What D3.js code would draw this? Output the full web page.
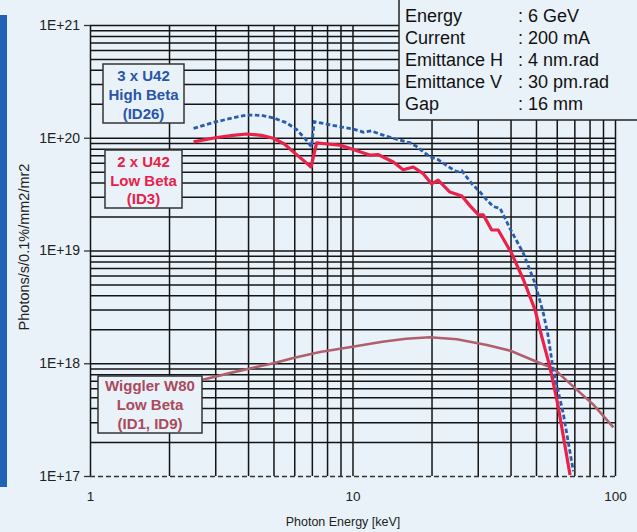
<!DOCTYPE html>
<html><head><meta charset="utf-8">
<script src="https://cdn.jsdelivr.net/npm/d3@7"></script>
<style>
html,body{margin:0;padding:0;background:#e9f2f8;}
svg{display:block;font-family:"Liberation Sans",Arial,sans-serif;}
</style></head>
<body>
<svg id="chart" width="637" height="532"></svg>
<script>
// ---- data ----
const xTickLabels = ["1", "10", "100"];
const yTickLabels = ["1E+17", "1E+18", "1E+19", "1E+20", "1E+21"];
const xLabel = "Photon Energy [keV]";
const yLabel = "Photons/s/0.1%/mm2/mr2";

// 3 x U42 High Beta (ID26)
const highBetaE = [2.48, 3.0, 3.5, 3.95, 4.5, 5.0, 5.6, 6.13, 6.6, 6.98, 7.15, 8.0, 8.96, 10, 11.0, 11.8, 13.0, 14.5, 16.6, 17.5, 19.7, 21.2, 22.5, 24.9, 26.1, 28.5, 30.6, 32.5, 34.4, 36.5, 39.8, 44.8, 49.6, 53.3, 55.5, 58.2, 63.5, 69.4];
const highBetaV = [1.21e20, 1.38e20, 1.50e20, 1.59e20, 1.58e20, 1.50e20, 1.36e20, 1.18e20, 0.98e20, 0.83e20, 1.39e20, 1.32e20, 1.25e20, 1.20e20, 1.12e20, 1.15e20, 1.06e20, 0.98e20, 0.90e20, 0.84e20, 0.68e20, 0.64e20, 0.58e20, 0.50e20, 0.51e20, 0.39e20, 0.33e20, 0.28e20, 0.245e20, 0.237e20, 1.57e19, 9.4e18, 5.1e18, 2.8e18, 1.8e18, 8.7e17, 3.6e17, 1.1e17];

// 2 x U42 Low Beta (ID3)
const lowBetaE = [2.48, 3.0, 3.5, 3.95, 4.5, 4.99, 5.5, 5.95, 6.5, 6.95, 7.3, 8.0, 8.96, 10, 11.7, 12.5, 14.3, 15.6, 17.05, 18.6, 20.0, 21.2, 23.5, 26.1, 28.0, 30.2, 31.5, 33.9, 35.9, 40.4, 44.8, 49.6, 52.6, 56.5, 60.8, 67.4];
const lowBetaV = [9.2e19, 1.0e20, 1.05e20, 1.08e20, 1.05e20, 9.9e19, 8.8e19, 7.5e19, 6.3e19, 5.5e19, 9.0e19, 8.8e19, 8.6e19, 7.9e19, 7.0e19, 7.1e19, 6.1e19, 5.2e19, 5.5e19, 4.8e19, 3.9e19, 4.2e19, 3.3e19, 3.04e19, 2.5e19, 2.07e19, 2.07e19, 1.52e19, 1.52e19, 9.4e18, 5.5e18, 2.97e18, 1.72e18, 9.3e17, 4.1e17, 1.02e17];

// Wiggler W80 Low Beta (ID1, ID9)
const wigglerE = [2.66, 3.5, 4.07, 5.0, 6.0, 7.52, 10, 13, 16, 19.7, 25, 32.5, 40, 50.3, 58.2, 69.4, 82.7, 98.6];
const wigglerV = [7.1e17, 8.3e17, 9.0e17, 1.0e18, 1.12e18, 1.26e18, 1.40e18, 1.55e18, 1.65e18, 1.70e18, 1.63e18, 1.45e18, 1.29e18, 1.03e18, 9.0e17, 6.2e17, 4.3e17, 2.7e17];

const infoLabels = ["Energy", "Current", "Emittance H", "Emittance V", "Gap"];
const infoValues = [": 6 GeV", ": 200 mA", ": 4 nm.rad", ": 30 pm.rad", ": 16 mm"];

const legendHigh = ["3 x U42", "High Beta", "(ID26)"];
const legendLow = ["2 x U42", "Low Beta", "(ID3)"];
const legendWig = ["Wiggler W80", "Low Beta", "(ID1, ID9)"];

// ---- drawing ----
const svg = d3.select("#chart");
const bg = "#e9f2f8";
const x = d3.scaleLog().domain([1, 100]).range([90, 615]);
const y = d3.scaleLog().domain([1e17, 1e21]).range([476, 25]);

// left blue bar
svg.append("rect").attr("x", 0).attr("y", 15).attr("width", 7).attr("height", 472).attr("fill", "#1f62b6");

const xGrid = [];
for (let d = 1; d < 100; d *= 10) for (let k = 1; k <= 9; k++) xGrid.push(k * d);
xGrid.push(100);
const yGrid = [];
for (let d = 1e17; d < 1e21; d *= 10) for (let k = 1; k <= 9; k++) yGrid.push(k * d);
yGrid.push(1e21);

const gridColor = "#141414";
// vertical grid
svg.append("g").attr("transform", "translate(0,476)")
  .call(d3.axisBottom(x).tickValues(xGrid).tickSize(-451).tickFormat(""))
  .call(g => g.select(".domain").remove())
  .call(g => g.selectAll("line").attr("stroke", gridColor).attr("stroke-width", 1.5));
// horizontal grid
svg.append("g").attr("transform", "translate(90,0)")
  .call(d3.axisLeft(y).tickValues(yGrid).tickSize(-525).tickFormat(""))
  .call(g => g.select(".domain").remove())
  .call(g => g.selectAll("line").attr("stroke", gridColor).attr("stroke-width", 1.5))
  .call(g => g.selectAll(".tick").filter(d => d === 1e17).select("line")
    .attr("stroke-dasharray", "5,3").attr("stroke", "#333"));

// y axis labels with decade ticks
const yDec = [1e17, 1e18, 1e19, 1e20, 1e21];
svg.append("g").attr("transform", "translate(90,0)")
  .call(d3.axisLeft(y).tickValues(yDec).tickSize(6).tickPadding(4).tickFormat((d, i) => yTickLabels[i]))
  .call(g => g.select(".domain").remove())
  .call(g => g.selectAll("line").attr("stroke", "#333").attr("stroke-width", 1.3))
  .call(g => g.selectAll("text").attr("font-size", 14).attr("fill", "#222")
    .attr("font-family", "Liberation Sans, Arial, sans-serif"));

// x axis labels
const xDec = [1, 10, 100];
svg.append("g").attr("transform", "translate(0,476)")
  .call(d3.axisBottom(x).tickValues(xDec).tickSize(0).tickPadding(15).tickFormat((d, i) => xTickLabels[i]))
  .call(g => g.select(".domain").remove())
  .call(g => g.selectAll("text").attr("font-size", 13.5).attr("fill", "#222")
    .attr("font-family", "Liberation Sans, Arial, sans-serif"));

svg.append("text").attr("x", 343).attr("y", 526).attr("text-anchor", "middle")
  .attr("font-size", 12.5).attr("fill", "#222").text(xLabel);
svg.append("text").attr("transform", "translate(29,247) rotate(-90)").attr("text-anchor", "middle")
  .attr("font-size", 14.5).attr("fill", "#222").text(yLabel);

// curves
const line = d3.line().x(d => x(d[0])).y(d => y(d[1]));
svg.append("path").datum(wigglerE.map((e, i) => [e, wigglerV[i]]))
  .attr("d", line).attr("fill", "none").attr("stroke", "#b0606c").attr("stroke-width", 2.6);
svg.append("path").datum(lowBetaE.map((e, i) => [e, lowBetaV[i]]))
  .attr("d", line).attr("fill", "none").attr("stroke", "#ea2149").attr("stroke-width", 3.2)
  .attr("stroke-linejoin", "round");
svg.append("path").datum(highBetaE.map((e, i) => [e, highBetaV[i]]))
  .attr("d", line).attr("fill", "none").attr("stroke", "#2a5cb0").attr("stroke-width", 2.8)
  .attr("stroke-dasharray", "4.5,2.5");

// legend boxes
function legendBox(x0, y0, w, h, lines, color, fs, base, step) {
  svg.append("rect").attr("x", x0).attr("y", y0).attr("width", w).attr("height", h)
    .attr("fill", bg).attr("stroke", "#333").attr("stroke-width", 1.5);
  lines.forEach((t, i) => {
    svg.append("text").attr("x", x0 + w / 2).attr("y", y0 + base + i * step)
      .attr("text-anchor", "middle").attr("font-size", fs).attr("font-weight", "bold")
      .attr("fill", color).text(t);
  });
}
legendBox(103, 64, 81, 59, legendHigh, "#2a55a8", 15, 17, 19);
legendBox(105, 150, 77, 58, legendLow, "#e6224c", 15, 17, 18.5);
legendBox(98, 376, 104, 57, legendWig, "#a94a5e", 15, 15, 19);

// info box
svg.append("rect").attr("x", 399).attr("y", -2).attr("width", 245).attr("height", 122)
  .attr("fill", bg).attr("stroke", "#222").attr("stroke-width", 1.5);
infoLabels.forEach((t, i) => {
  const yy = 22 + i * 22;
  svg.append("text").attr("x", 405).attr("y", yy).attr("font-size", 18).attr("fill", "#111").text(t);
  svg.append("text").attr("x", 518).attr("y", yy).attr("font-size", 18).attr("fill", "#111").text(infoValues[i]);
});
</script>
</body></html>
